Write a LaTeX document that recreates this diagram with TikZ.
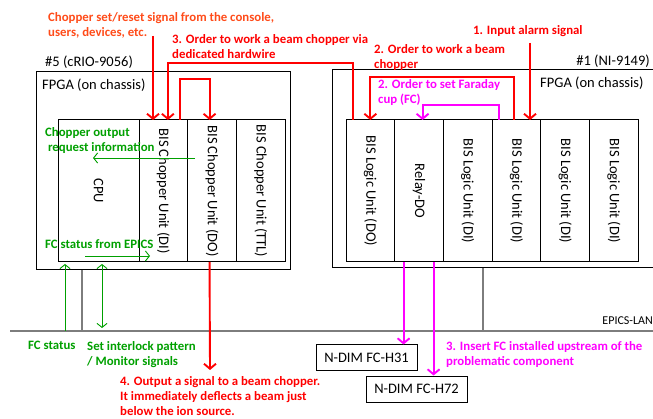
\documentclass[tikz,border=0pt]{standalone}
\usepackage{fontspec}
\setmainfont{Carlito}
\usepackage{graphicx}
\usetikzlibrary{arrows.meta, positioning}

\definecolor{alarmred}{RGB}{255,0,0}
\definecolor{consoleorange}{RGB}{255,75,25}
\definecolor{fcmagenta}{RGB}{255,0,255}
\definecolor{infogreen}{RGB}{0,160,0}
\definecolor{langray}{RGB}{125,125,125}

\begin{document}
\begin{tikzpicture}[
    x=1pt, y=-1pt,
    node distance=0pt,
    font=\fontsize{14.5}{17}\selectfont,
    unit/.style = {
        draw,
        line width=1pt,
        outer sep=0pt,
        inner sep=0pt,
        minimum width=48.7pt,
        minimum height=142pt
    },
    chassis/.style = {
        draw,
        line width=1pt,
        outer sep=0pt
    },
    fcbox/.style = {
        draw,
        line width=1pt,
        minimum width=101pt,
        minimum height=26pt
    },
    note/.style = {
        anchor=north west,
        inner sep=0pt,
        align=left,
        font=\fontsize{12.8}{15}\selectfont\bfseries
    },
    plain/.style = {
        inner sep=0pt
    },
    chopline/.style = {
        alarmred,
        line width=1.9pt,
        -{Straight Barb[length=5pt,width=12pt]}
    },
    fcline/.style = {
        fcmagenta,
        line width=1.9pt,
        -{Straight Barb[length=5pt,width=12pt]}
    },
    infoline/.style = {
        infogreen,
        line width=0.9pt,
        -{Straight Barb[length=4pt,width=10pt]}
    },
    lanline/.style = {
        langray,
        line width=1.1pt
    }
]
  \useasboundingbox (0,0) rectangle (653,419);

  % #5 chassis
  \node[chassis, minimum width=254pt, minimum height=198pt] (crio) at (163,171) {};
  \node[plain, anchor=north west] (crioname) at (45,56) {\#5 (cRIO-9056)};
  \node[plain, anchor=north west] (criofpga) at (42,79) {FPGA (on chassis)};

  \node[unit, minimum width=81pt] (cpu) at (98.5,191) {\rotatebox{-90}{CPU}};
  \node[unit] (cdi) [right=of cpu] {\rotatebox{-90}{BIS Chopper Unit (DI)}};
  \node[unit] (cdo) [right=of cdi] {\rotatebox{-90}{BIS Chopper Unit (DO)}};
  \node[unit] (cttl) [right=of cdo] {\rotatebox{-90}{BIS Chopper Unit (TTL)}};

  % #1 chassis
  \draw[line width=1pt] (653,70) -- (332,70) -- (332,268) -- (653,268);
  \node[plain, anchor=north east] (niname) at (650,55) {\#1 (NI-9149)};
  \node[plain, anchor=north west] (nifpga) at (540,77) {FPGA (on chassis)};

  \node[unit] (ldo) at (370.35,191) {\rotatebox{-90}{BIS Logic Unit (DO)}};
  \node[unit] (relay) [right=of ldo] {\rotatebox{-90}{Relay-DO}};
  \node[unit] (ldiA) [right=of relay] {\rotatebox{-90}{BIS Logic Unit (DI)}};
  \node[unit] (ldiB) [right=of ldiA] {\rotatebox{-90}{BIS Logic Unit (DI)}};
  \node[unit] (ldiC) [right=of ldiB] {\rotatebox{-90}{BIS Logic Unit (DI)}};
  \node[unit] (ldiD) [right=of ldiC] {\rotatebox{-90}{BIS Logic Unit (DI)}};

  % Faraday cups
  \node[fcbox] (h31) at (366.5,358) {N-DIM FC-H31};
  \node[fcbox] (h72) at (416.5,389) {N-DIM FC-H72};

  % EPICS LAN
  \coordinate (lanL) at (10,331);
  \coordinate (lanR) at (653,331);
  \coordinate (niLan) at (483,268);
  \coordinate (crioLan) at (82,270);
  \draw[lanline] (lanL) -- (lanR);
  \node[plain, anchor=north east, font=\fontsize{12}{14}\selectfont] (lan) at (653,317) {EPICS-LAN};
  \draw[lanline] (niLan) -- (niLan |- lanR);
  \draw[lanline] (crioLan) -- (crioLan |- lanR);

  % notes
  \node[note, text=consoleorange] (setreset) at (48,12) {Chopper set/reset signal from the console,\\users, devices, etc.};
  \node[note, text=alarmred] (hardwire) at (172,34) {3. Order to work a beam chopper via\\dedicated hardwire};
  \node[note, text=alarmred] (order2) at (374,44) {2. Order to work a beam\\chopper};
  \node[note, text=alarmred] (alarmtxt) at (473,25) {1. Input alarm signal};
  \node[note, text=fcmagenta] (fcorder) at (378,79) {2. Order to set Faraday\\cup (FC)};
  \node[note, text=infogreen] (reqinfo) at (45,127) {Chopper output\\\ request information};
  \node[note, text=infogreen] (fcepics) at (45,239) {FC status from EPICS};
  \node[note, text=infogreen] (fcstat) at (28,341) {FC status};
  \node[note, text=infogreen] (setpat) at (87,341) {Set interlock pattern\\/ Monitor signals};
  \node[note, text=alarmred] (outtxt) at (120,376) {4. Output a signal to a beam chopper.\\It immediately deflects a beam just\\below the ion source.};
  \node[note, text=fcmagenta] (inserttxt) at (446,341) {3. Insert FC installed upstream of the\\problematic component};

  % red chopper signals
  \coordinate (console) at (153,36);
  \coordinate (alarm) at (530,43);
  \coordinate (chopper) at (210,370);
  \draw[chopline] (console) -- (console |- cdi.north);
  \draw[chopline] ([xshift=-17pt]ldo.north) -- ++(0,-57) -| ([xshift=4.5pt]cdi.north);
  \draw[chopline] ([xshift=16.5pt]cdi.north) -- ++(0,-41) -| ([xshift=-2.5pt]cdo.north);
  \draw[chopline] ([xshift=-2.5pt]ldiB.north) -- ++(0,-43) -| (ldo.north);
  \draw[chopline] (alarm) -- (alarm |- ldiB.north);
  \draw[chopline] ([xshift=-2.5pt]cdo.south) -- (chopper);

  % magenta FC signals
  \draw[fcline] ([xshift=-17.5pt]ldiB.north) -- ++(0,-15) -| ([xshift=3.5pt]relay.north);
  \draw[fcline] ([xshift=-15.5pt]relay.south) -- ([xshift=-15.5pt]relay.south |- h31.north);
  \draw[fcline] ([xshift=14.5pt]relay.south) -- ([xshift=14.5pt]relay.south |- h72.north);

  % green information
  \coordinate (reqA) at (195,158);
  \coordinate (reqB) at (93,158);
  \coordinate (epA) at (85,256);
  \coordinate (epB) at (150,256);
  \coordinate (fcUp) at (65,264);
  \coordinate (patUp) at (102,264);
  \coordinate (patDown) at (102,328);
  \draw[infoline] (reqA) -- (reqB);
  \draw[infoline] (epA) -- (epB);
  \draw[infoline] (fcUp |- lanR) -- (fcUp);
  \draw[infoline, {Straight Barb[length=4pt,width=10pt]}-{Straight Barb[length=4pt,width=10pt]}] (patUp) -- (patDown);
\end{tikzpicture}
\end{document}
